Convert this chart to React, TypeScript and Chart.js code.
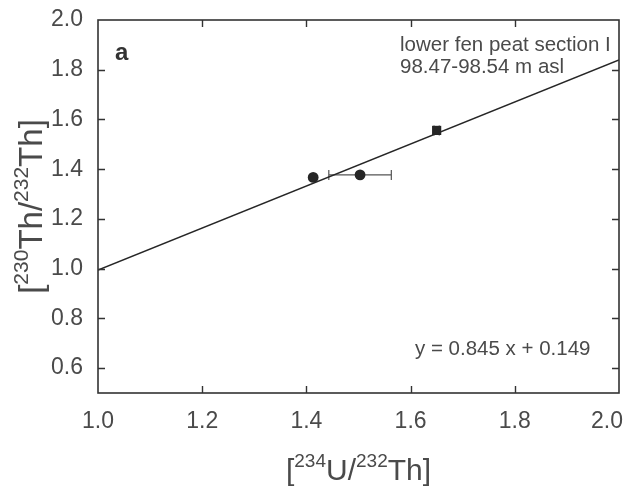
import React, { useEffect, useRef } from 'react';
import { Chart, registerables } from 'chart.js';

Chart.register(...registerables);

// ---- data ----
const xTicks = [1.0, 1.2, 1.4, 1.6, 1.8, 2.0];
const yTicks = [0.6, 0.8, 1.0, 1.2, 1.4, 1.6, 1.8, 2.0];
const pointX = [1.413, 1.503, 1.65];
const pointY = [1.367, 1.377, 1.556];
const pointShapes = ['circle', 'circle', 'rect'];
const xErrLow = [1.413, 1.443, 1.645];
const xErrHigh = [1.413, 1.563, 1.655];
const yErrLow = [1.357, 1.377, 1.548];
const yErrHigh = [1.377, 1.377, 1.564];
const fitX = [1.0, 2.0];
const fitY = [0.994, 1.839];
const panelLabel = 'a';
const noteLines = ['lower fen peat section I', '98.47-98.54 m asl'];
const equationText = 'y = 0.845 x + 0.149';

const FONT = '"Liberation Sans", Arial, sans-serif';
const TEXT = '#4a4a4a';
const INK = '#262626';

type Seg = { t: string; sup?: boolean };
const xTitle: Seg[] = [{ t: '[' }, { t: '234', sup: true }, { t: 'U/' }, { t: '232', sup: true }, { t: 'Th]' }];
const yTitle: Seg[] = [{ t: '[' }, { t: '230', sup: true }, { t: 'Th/' }, { t: '232', sup: true }, { t: 'Th]' }];

function drawRich(ctx: CanvasRenderingContext2D, segs: Seg[], size: number, supSize: number) {
  const widths = segs.map((s) => {
    ctx.font = `${s.sup ? supSize : size}px ${FONT}`;
    return ctx.measureText(s.t).width;
  });
  const total = widths.reduce((a, b) => a + b, 0);
  let x = -total / 2;
  segs.forEach((s, i) => {
    ctx.font = `${s.sup ? supSize : size}px ${FONT}`;
    ctx.fillText(s.t, x, s.sup ? -size * 0.42 : 0);
    x += widths[i];
  });
}

const framePlugin = {
  id: 'frame',
  beforeDatasetsDraw(chart: any) {
    const ctx = chart.ctx;
    const xs = chart.scales.x;
    const ys = chart.scales.y;
    ctx.save();
    ctx.strokeStyle = '#555';
    ctx.lineWidth = 1.2;
    const cap = 5;
    for (let i = 0; i < pointX.length; i++) {
      const py = ys.getPixelForValue(pointY[i]);
      const px = xs.getPixelForValue(pointX[i]);
      if (xErrHigh[i] > xErrLow[i]) {
        const x0 = xs.getPixelForValue(xErrLow[i]);
        const x1 = xs.getPixelForValue(xErrHigh[i]);
        ctx.beginPath();
        ctx.moveTo(x0, py); ctx.lineTo(x1, py);
        ctx.moveTo(x0, py - cap); ctx.lineTo(x0, py + cap);
        ctx.moveTo(x1, py - cap); ctx.lineTo(x1, py + cap);
        ctx.stroke();
      }
      if (yErrHigh[i] > yErrLow[i]) {
        const y0 = ys.getPixelForValue(yErrLow[i]);
        const y1 = ys.getPixelForValue(yErrHigh[i]);
        ctx.beginPath();
        ctx.moveTo(px, y0); ctx.lineTo(px, y1);
        ctx.moveTo(px - 3, y0); ctx.lineTo(px + 3, y0);
        ctx.moveTo(px - 3, y1); ctx.lineTo(px + 3, y1);
        ctx.stroke();
      }
    }
    ctx.restore();
  },
  afterDraw(chart: any) {
    const ctx = chart.ctx;
    const { left, right, top, bottom } = chart.chartArea;
    const xs = chart.scales.x;
    const ys = chart.scales.y;
    ctx.save();
    ctx.strokeStyle = '#333';
    ctx.lineWidth = 1.6;
    ctx.strokeRect(left, top, right - left, bottom - top);
    ctx.lineWidth = 1.4;
    const tl = 7;
    ctx.beginPath();
    xTicks.forEach((v) => {
      const px = Math.round(xs.getPixelForValue(v)) + 0.5;
      if (px <= left + 2 || px >= right - 2) return;
      ctx.moveTo(px, bottom); ctx.lineTo(px, bottom - tl);
      ctx.moveTo(px, top); ctx.lineTo(px, top + tl);
    });
    yTicks.forEach((v) => {
      const py = Math.round(ys.getPixelForValue(v)) + 0.5;
      if (py <= top + 2 || py >= bottom - 2) return;
      ctx.moveTo(left, py); ctx.lineTo(left + tl, py);
      ctx.moveTo(right, py); ctx.lineTo(right - tl, py);
    });
    ctx.stroke();

    // x tick labels (positioned by the x scale, last one kept inside the canvas)
    ctx.fillStyle = TEXT;
    ctx.font = `23px ${FONT}`;
    ctx.textAlign = 'center';
    ctx.textBaseline = 'middle';
    const cw = chart.width;
    xTicks.forEach((v) => {
      const label = v.toFixed(1);
      const w = ctx.measureText(label).width;
      let px = xs.getPixelForValue(v);
      px = Math.min(px, cw - w / 2 - 5);
      ctx.fillText(label, px, bottom + 29);
    });

    // texts
    ctx.textBaseline = 'alphabetic';
    ctx.textAlign = 'left';
    ctx.font = `bold 24px ${FONT}`;
    ctx.fillStyle = '#333';
    ctx.fillText(panelLabel, left + 17, top + 40);
    ctx.fillStyle = TEXT;
    ctx.font = `20.5px ${FONT}`;
    ctx.fillText(noteLines[0], 400, 51);
    ctx.fillText(noteLines[1], 400, 73);
    ctx.fillText(equationText, 415, 355);

    // axis titles
    ctx.save();
    ctx.translate((left + right) / 2, 480);
    drawRich(ctx, xTitle, 30, 19);
    ctx.restore();
    ctx.save();
    ctx.translate(42, (top + bottom) / 2);
    ctx.rotate(-Math.PI / 2);
    drawRich(ctx, yTitle, 33, 21);
    ctx.restore();
    ctx.restore();
  },
};

export default function App() {
  const ref = useRef<HTMLCanvasElement>(null);
  useEffect(() => {
    if (!ref.current) return;
    const chart = new Chart(ref.current, {
      type: 'scatter',
      data: {
        datasets: [
          {
            type: 'line',
            data: fitX.map((x, i) => ({ x, y: fitY[i] })),
            borderColor: INK,
            borderWidth: 1.5,
            pointRadius: 0,
            fill: false,
          } as any,
          {
            type: 'scatter',
            data: pointX.map((x, i) => ({ x, y: pointY[i] })),
            pointStyle: pointShapes as any,
            pointRadius: pointShapes.map((s) => (s === 'rect' ? 6.5 : 5.4)),
            backgroundColor: INK,
            borderColor: INK,
            borderWidth: 0,
          },
        ],
      },
      options: {
        responsive: false,
        animation: false,
        layout: { padding: { top: 20, right: 9, left: 0, bottom: 0 } },
        plugins: { legend: { display: false }, tooltip: { enabled: false } },
        scales: {
          x: {
            type: 'linear',
            min: 1.0,
            max: 2.0,
            afterBuildTicks: (s: any) => {
              s.ticks = xTicks.map((v) => ({ value: v }));
            },
            afterFit: (s: any) => {
              s.height = 96;
              s.paddingLeft = 0;
              s.paddingRight = 0;
            },
            grid: { display: false },
            border: { display: false },
            ticks: { display: false },
          },
          y: {
            type: 'linear',
            min: 0.5,
            max: 2.0,
            afterBuildTicks: (s: any) => {
              s.ticks = yTicks.map((v) => ({ value: v }));
            },
            afterFit: (s: any) => {
              s.width = 98;
              s.paddingTop = 0;
              s.paddingBottom = 0;
            },
            grid: { display: false },
            border: { display: false },
            ticks: {
              padding: 7,
              color: TEXT,
              font: { size: 23, family: FONT },
              callback: (v: any) => Number(v).toFixed(1),
            },
          },
        },
      },
      plugins: [framePlugin],
    });
    return () => chart.destroy();
  }, []);
  return (
    <div style={{ position: 'absolute', left: 0, top: 0, width: 628, height: 489, background: '#fff' }}>
      <canvas ref={ref} width={628} height={489} style={{ display: 'block' }} />
    </div>
  );
}
